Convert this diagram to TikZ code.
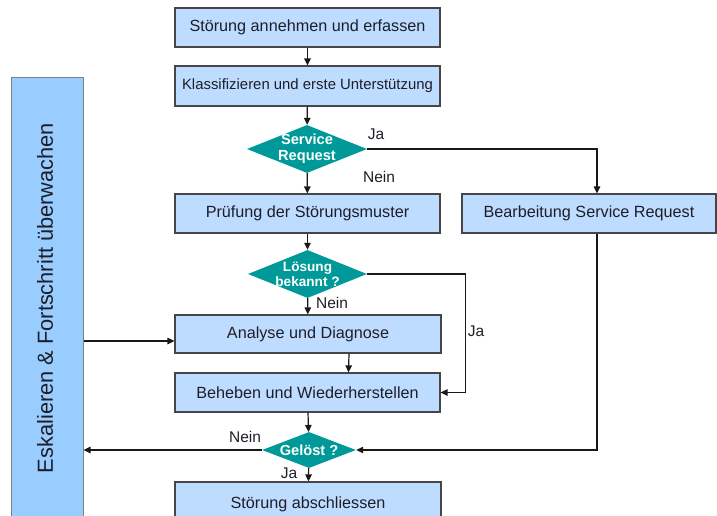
\documentclass[tikz,border=0pt]{standalone}
\usepackage{fontspec}
\setmainfont{Liberation Sans}
\usetikzlibrary{shapes.geometric,arrows.meta}
\definecolor{boxfill}{RGB}{190,220,255}
\definecolor{escfill}{RGB}{153,204,255}
\definecolor{tealfill}{RGB}{0,153,153}
\definecolor{boxline}{RGB}{70,70,70}
\definecolor{txt}{RGB}{30,30,40}
\begin{document}
\begin{tikzpicture}[x=1pt,y=-1pt,
  proc/.style={draw=boxline, fill=boxfill, line width=1.2pt, inner sep=0pt, text=txt,
    font=\fontsize{16.2}{18}\selectfont},
  dec/.style={diamond, fill=tealfill, inner sep=0pt},
  dectext/.style={text=white, font=\bfseries\fontsize{14.6}{16}\selectfont, align=center},
  conn/.style={line width=1.2pt, draw=black!90, -{Triangle[length=7pt,width=6.5pt]}},
  lbl/.style={text=txt, font=\fontsize{15.5}{17}\selectfont}]
\useasboundingbox (0,0) rectangle (717,515);
\clip (0,0) rectangle (717,515);
\fill[white] (0,0) rectangle (717,515);
% escalation box
\node[draw=black!50, fill=escfill, line width=1pt, minimum width=72pt, minimum height=453pt, inner sep=0pt] (esc) at (47,303.5) {};
\node[rotate=90, text=txt, font=\fontsize{21.8}{24}\selectfont] (esctext) at (45,298) {Eskalieren \& Fortschritt überwachen};
% process boxes
\node[proc, minimum width=265pt, minimum height=39pt] (b1) at (307.5,27.5) {Störung annehmen und erfassen};
\node[proc, minimum width=265pt, minimum height=40pt, font=\fontsize{14.9}{17}\selectfont] (b2) at (307.5,86) {Klassifizieren und erste Unterstützung};
\node[proc, minimum width=265pt, minimum height=39pt] (b3) at (307.5,213.5) {Prüfung der Störungsmuster};
\node[proc, minimum width=254pt, minimum height=39pt] (b4) at (589,213.5) {Bearbeitung Service Request};
\node[proc, minimum width=266pt, minimum height=38pt] (b5) at (308,334) {Analyse und Diagnose};
\node[proc, minimum width=265pt, minimum height=39pt] (b6) at (307.5,392.5) {Beheben und Wiederherstellen};
\node[proc, minimum width=266pt, minimum height=44pt] (b7) at (308,504) {Störung abschliessen};
% decisions
\node[dec, minimum width=120pt, minimum height=48pt] (d1) at (307,149) {};
\node[dectext] (d1t) at (307,149) {Service\\Request};
\node[dec, minimum width=119pt, minimum height=48pt] (d2) at (307.5,274) {};
\node[dectext, font=\bfseries\fontsize{13.6}{15}\selectfont] (d2t) at (307.5,274.5) {Lösung\\bekannt ?};
\node[dec, minimum width=94pt, minimum height=36pt] (d3) at (309,450) {};
\node[dectext] (d3t) at (309,450) {Gelöst ?};
% connectors
\draw[conn] (b1) -- (b2);
\draw[conn] (b2) -- (d1);
\draw[conn] (d1) -- (b3);
\coordinate (b4n) at ([xshift=8pt]b4.north);
\coordinate (b4s) at ([xshift=8pt]b4.south);
\draw[conn] (d1.east) -| (b4n);
\draw[conn] (b3) -- (d2);
\draw[conn] (d2) -- (b5);
\draw[conn] (d2.east) -- ++(98,0) |- (b6.east);
\coordinate (b5s) at ([xshift=41pt]b5.south);
\coordinate (b6n) at ([xshift=41pt]b6.north);
\draw[conn] (b5s) -- (b6n);
\draw[conn] (b6) -- (d3);
\draw[conn] (d3) -- (b7);
\draw[conn] (b4s) |- (d3.east);
\draw[conn] (d3.west) -- (esc.east |- d3.west);
\coordinate (b5w) at ([yshift=-7pt]b5.west);
\draw[conn] (esc.east |- b5w) -- (b5w);
% labels
\node[lbl] (l1) at (376,134) {Ja};
\node[lbl] (l2) at (379,177) {Nein};
\node[lbl] (l3) at (332,303) {Nein};
\node[lbl] (l4) at (476,331) {Ja};
\node[lbl] (l5) at (245,437) {Nein};
\node[lbl] (l6) at (289,473) {Ja};
\end{tikzpicture}
\end{document}
